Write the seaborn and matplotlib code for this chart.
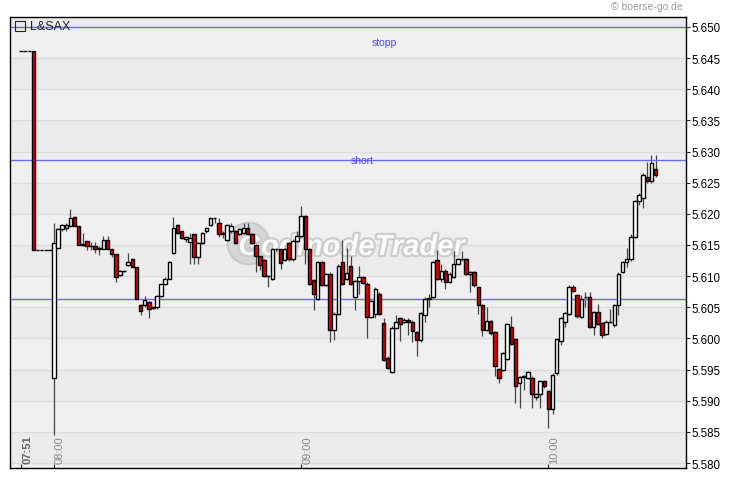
import numpy as np
import pandas as pd
import seaborn as sns
import matplotlib.pyplot as plt
import matplotlib.patheffects as pe
from matplotlib.transforms import blended_transform_factory

# Zeiten: vorbörslich einzeln, ab 08:00 jede Minute
premarket_times = ['07:51', '07:52', '07:53', '07:55', '07:56', '07:57', '07:58', '07:59']
session_start = '08:00'
session_bars = 147

opens = [5.6461, 5.6461, 5.6461, 5.6461, 5.6142, 5.6142, 5.6142, 5.6142,
         5.5937, 5.6145, 5.6175, 5.6178, 5.6180, 5.6195, 5.6181, 5.6150, 5.6157, 5.6148,
         5.6148, 5.6144, 5.6144, 5.6158, 5.6143, 5.6135, 5.6102, 5.6108, 5.6118, 5.6127,
         5.6114, 5.6053, 5.6053, 5.6059, 5.6049, 5.6050, 5.6068, 5.6087, 5.6096, 5.6137,
         5.6182, 5.6172, 5.6160, 5.6155, 5.6167, 5.6131, 5.6153, 5.6172, 5.6182, 5.6193,
         5.6186, 5.6168, 5.6158, 5.6172, 5.6172, 5.6168, 5.6170, 5.6177, 5.6168, 5.6150,
         5.6132, 5.6126, 5.6100, 5.6095, 5.6143, 5.6143, 5.6126, 5.6153, 5.6127, 5.6157,
         5.6165, 5.6196, 5.6143, 5.6093, 5.6064, 5.6123, 5.6086, 5.6103, 5.6013, 5.6040,
         5.6123, 5.6095, 5.6117, 5.6067, 5.6092, 5.6098, 5.6088, 5.6034, 5.6040, 5.6072,
         5.6024, 5.5969, 5.5946, 5.6017, 5.6032, 5.6027, 5.6030, 5.6027, 5.6010, 5.5997,
         5.6037, 5.6064, 5.6067, 5.6126, 5.6095, 5.6109, 5.6091, 5.6099, 5.6120, 5.6127,
         5.6127, 5.6104, 5.6107, 5.6082, 5.6053, 5.6014, 5.6028, 5.6010, 5.5951, 5.5949,
         5.5967, 5.6019, 5.5999, 5.5929, 5.5938, 5.5937, 5.5937, 5.5906, 5.5911, 5.5932,
         5.5915, 5.5887, 5.5944, 5.5996, 5.6026, 5.6040, 5.6082, 5.6069, 5.6034, 5.6067,
         5.6067, 5.6019, 5.6042, 5.6024, 5.6007, 5.6027, 5.6021, 5.6053, 5.6107, 5.6123,
         5.6127, 5.6163, 5.6220, 5.6225, 5.6259, 5.6252, 5.6272]
closes = [5.6461, 5.6461, 5.6461, 5.6142, 5.6142, 5.6142, 5.6142, 5.6142,
          5.6153, 5.6175, 5.6182, 5.6182, 5.6193, 5.6181, 5.6150, 5.6152, 5.6148, 5.6148,
          5.6144, 5.6145, 5.6158, 5.6143, 5.6135, 5.6098, 5.6108, 5.6108, 5.6123, 5.6114,
          5.6063, 5.6044, 5.6061, 5.6047, 5.6050, 5.6068, 5.6087, 5.6096, 5.6123, 5.6177,
          5.6170, 5.6162, 5.6163, 5.6161, 5.6131, 5.6153, 5.6169, 5.6177, 5.6193, 5.6193,
          5.6168, 5.6170, 5.6182, 5.6180, 5.6153, 5.6175, 5.6177, 5.6168, 5.6153, 5.6132,
          5.6118, 5.6100, 5.6100, 5.6143, 5.6143, 5.6121, 5.6143, 5.6127, 5.6157, 5.6165,
          5.6196, 5.6143, 5.6087, 5.6071, 5.6123, 5.6086, 5.6103, 5.6014, 5.6040, 5.6117,
          5.6087, 5.6105, 5.6087, 5.6092, 5.6098, 5.6089, 5.6034, 5.6060, 5.6080, 5.6040,
          5.5965, 5.5953, 5.6017, 5.6027, 5.6023, 5.6030, 5.6027, 5.6012, 5.5997, 5.6041,
          5.6064, 5.6065, 5.6123, 5.6095, 5.6109, 5.6091, 5.6104, 5.6120, 5.6127, 5.6127,
          5.6104, 5.6107, 5.6085, 5.6053, 5.6014, 5.6028, 5.6008, 5.5956, 5.5937, 5.5976,
          5.6023, 5.5991, 5.5924, 5.5938, 5.5939, 5.5946, 5.5911, 5.5911, 5.5932, 5.5923,
          5.5887, 5.5942, 5.5999, 5.6032, 5.6041, 5.6083, 5.6076, 5.6036, 5.6063, 5.6067,
          5.6019, 5.6042, 5.6023, 5.6006, 5.6027, 5.6027, 5.6053, 5.6104, 5.6122, 5.6127,
          5.6163, 5.6220, 5.6231, 5.6263, 5.6252, 5.6281, 5.6263]
highs = [5.6461, 5.6461, 5.6461, 5.6461, 5.6142, 5.6142, 5.6142, 5.6142,
         5.6185, 5.6178, 5.6184, 5.6186, 5.6208, 5.6197, 5.6181, 5.6170, 5.6157, 5.6155,
         5.6155, 5.6149, 5.6165, 5.6165, 5.6143, 5.6135, 5.6110, 5.6110, 5.6137, 5.6129,
         5.6114, 5.6055, 5.6068, 5.6060, 5.6052, 5.6070, 5.6088, 5.6098, 5.6124, 5.6195,
         5.6184, 5.6173, 5.6165, 5.6169, 5.6168, 5.6155, 5.6171, 5.6179, 5.6194, 5.6194,
         5.6193, 5.6172, 5.6183, 5.6186, 5.6174, 5.6178, 5.6186, 5.6186, 5.6169, 5.6151,
         5.6133, 5.6127, 5.6102, 5.6145, 5.6145, 5.6144, 5.6145, 5.6155, 5.6159, 5.6172,
         5.6213, 5.6198, 5.6145, 5.6095, 5.6125, 5.6125, 5.6105, 5.6106, 5.6042, 5.6119,
         5.6158, 5.6145, 5.6132, 5.6094, 5.6117, 5.6100, 5.6090, 5.6062, 5.6082, 5.6074,
         5.6032, 5.5971, 5.6020, 5.6037, 5.6034, 5.6032, 5.6032, 5.6029, 5.6012, 5.6043,
         5.6066, 5.6072, 5.6125, 5.6142, 5.6120, 5.6111, 5.6106, 5.6140, 5.6129, 5.6140,
         5.6129, 5.6109, 5.6109, 5.6084, 5.6055, 5.6050, 5.6030, 5.6012, 5.5953, 5.5978,
         5.6025, 5.6036, 5.6001, 5.5940, 5.5941, 5.5948, 5.5939, 5.5913, 5.5934, 5.5934,
         5.5917, 5.5944, 5.6001, 5.6034, 5.6043, 5.6085, 5.6085, 5.6071, 5.6070, 5.6074,
         5.6075, 5.6044, 5.6055, 5.6026, 5.6029, 5.6047, 5.6055, 5.6106, 5.6124, 5.6145,
         5.6167, 5.6222, 5.6233, 5.6265, 5.6283, 5.6294, 5.6294]
lows = [5.6461, 5.6461, 5.6461, 5.6142, 5.6142, 5.6142, 5.6142, 5.6142,
        5.5845, 5.6145, 5.6172, 5.6172, 5.6180, 5.6181, 5.6150, 5.6148, 5.6142, 5.6142,
        5.6137, 5.6134, 5.6144, 5.6143, 5.6131, 5.6091, 5.6100, 5.6106, 5.6116, 5.6114,
        5.6063, 5.6037, 5.6050, 5.6032, 5.6047, 5.6048, 5.6066, 5.6085, 5.6095, 5.6135,
        5.6168, 5.6160, 5.6155, 5.6120, 5.6120, 5.6120, 5.6151, 5.6170, 5.6180, 5.6186,
        5.6163, 5.6162, 5.6156, 5.6170, 5.6151, 5.6166, 5.6168, 5.6166, 5.6151, 5.6107,
        5.6110, 5.6098, 5.6082, 5.6093, 5.6141, 5.6111, 5.6124, 5.6125, 5.6125, 5.6155,
        5.6163, 5.6120, 5.6085, 5.6046, 5.6062, 5.6084, 5.6084, 5.5994, 5.5997, 5.6038,
        5.6085, 5.6093, 5.6085, 5.6045, 5.6072, 5.6087, 5.6001, 5.6032, 5.6033, 5.6038,
        5.5963, 5.5951, 5.5944, 5.6015, 5.5996, 5.6025, 5.6005, 5.5995, 5.5971, 5.5995,
        5.6026, 5.6051, 5.6065, 5.6093, 5.6090, 5.6080, 5.6089, 5.6097, 5.6118, 5.6125,
        5.6102, 5.6075, 5.6083, 5.6040, 5.6004, 5.6012, 5.6006, 5.5940, 5.5928, 5.5947,
        5.5965, 5.5989, 5.5897, 5.5889, 5.5918, 5.5935, 5.5888, 5.5901, 5.5888, 5.5921,
        5.5857, 5.5878, 5.5942, 5.5990, 5.6018, 5.6038, 5.6074, 5.6033, 5.6032, 5.6050,
        5.6017, 5.6006, 5.6021, 5.6000, 5.6005, 5.6025, 5.6019, 5.6037, 5.6105, 5.6115,
        5.6125, 5.6161, 5.6215, 5.6209, 5.6250, 5.6250, 5.6259]

# Marken
level_names = ['stopp', 'short', '']
level_values = [5.6500, 5.6287, 5.6064]
price_ticks = [5.580, 5.585, 5.590, 5.595, 5.600, 5.605, 5.610, 5.615,
               5.620, 5.625, 5.630, 5.635, 5.640, 5.645, 5.650]
time_ticks = ['07:51', '08:00', '09:00', '10:00']

session_times = pd.date_range(session_start, periods=session_bars, freq='min').strftime('%H:%M').tolist()
df = pd.DataFrame({'time': premarket_times + session_times,
                   'open': opens, 'high': highs, 'low': lows, 'close': closes})
df['x'] = np.arange(len(df))
df['up'] = df['close'] >= df['open']

sns.set_style('white')
plt.rcParams['font.family'] = ['Liberation Sans', 'DejaVu Sans']

fig = plt.figure(figsize=(7.3, 4.81), dpi=100)
ax = fig.add_axes([10 / 730, 12 / 481, 676 / 730, 451 / 481])
ax.set_facecolor('#eeeeee')

# Hintergrundbänder und Gitter
for i, lo in enumerate(np.arange(5.575, 5.655, 0.005)):
    ax.axhspan(lo, lo + 0.005, color='#efefef' if i % 2 == 0 else '#ebebeb', lw=0, zorder=0)
for p in price_ticks:
    ax.axhline(p, color='#dcdcdc', lw=1, zorder=0.5)

# Wasserzeichen
ax.plot([0.352], [0.50], marker='o', ms=30, mfc='#d6d6d6', mec='#c8c8c8', mew=1.5,
        transform=ax.transAxes, zorder=0.8)
ax.text(0.505, 0.49, 'GodmodeTrader', transform=ax.transAxes, ha='center', va='center',
        fontsize=21, fontweight='bold', fontstyle='italic', color='#fafafa', zorder=0.9,
        path_effects=[pe.withStroke(linewidth=3, foreground='#cbcbcb')])

# Dochte und Kerzenkörper
ax.vlines(df['x'], df['low'], df['high'], color='#444444', lw=0.9, zorder=2)
body_lo = df[['open', 'close']].min(axis=1)
body_h = (df['close'] - df['open']).abs()
ax.bar(df['x'], body_h, bottom=body_lo, width=0.86,
       color=np.where(df['up'], 'white', '#e00000'), edgecolor='black', lw=1.0, zorder=3)

# Linien mit Beschriftung
for name, val in zip(level_names, level_values):
    ax.axhline(val, color='#6b6bf0', lw=1, zorder=2.5)
ax.text(88.3, 5.6476, 'stopp', color='#4b4bff', fontsize=7.5, ha='center', va='center', zorder=4)
ax.text(82.8, 5.6287, 'short', color='#4b4bff', fontsize=7.5, ha='center', va='center', zorder=4)

ax.set_ylim(5.5792, 5.6516)
ax.set_xlim(-2.68, 161.4)

ax.yaxis.tick_right()
ax.set_yticks(price_ticks)
ax.set_yticklabels([f'{p:.3f}' for p in price_ticks], fontsize=8.3, color='black')
ax.tick_params(axis='y', direction='out', length=3, width=0.8, pad=1, right=True, left=False)

tick_x = [df.index[df['time'] == t][0] for t in time_ticks]
ax.set_xticks(tick_x)
ax.set_xticklabels([])
ax.tick_params(axis='x', direction='in', length=3, width=0.8, bottom=True)
trans = blended_transform_factory(ax.transData, ax.transAxes)
for t, xv in zip(time_ticks, tick_x):
    ax.annotate(t, xy=(xv, 0), xycoords=trans, xytext=(0.8, 3.6), textcoords='offset points',
                rotation=90, ha='left', va='bottom', fontsize=8,
                color='#666666' if t == time_ticks[0] else '#888888',
                fontweight='bold' if t == time_ticks[0] else 'normal', zorder=4)

for s in ax.spines.values():
    s.set_color('black')
    s.set_linewidth(1)
    s.set_visible(True)
ax.set_xlabel('')
ax.set_ylabel('')

# Legende
ax.plot([0.0148], [0.98], marker='s', ms=7, mfc='none', mec='#222222', mew=0.8,
        transform=ax.transAxes, zorder=5)
ax.text(0.029, 0.98, 'L&SAX', transform=ax.transAxes, ha='left', va='center',
        fontsize=9, color='#222222', zorder=5)

fig.text(683 / 730, 1 - 7 / 481, '© boerse-go.de', ha='right', va='center', fontsize=7.5, color='#9a9a9a')

fig.savefig('out.png', dpi=100, facecolor='white')
plt.close(fig)
